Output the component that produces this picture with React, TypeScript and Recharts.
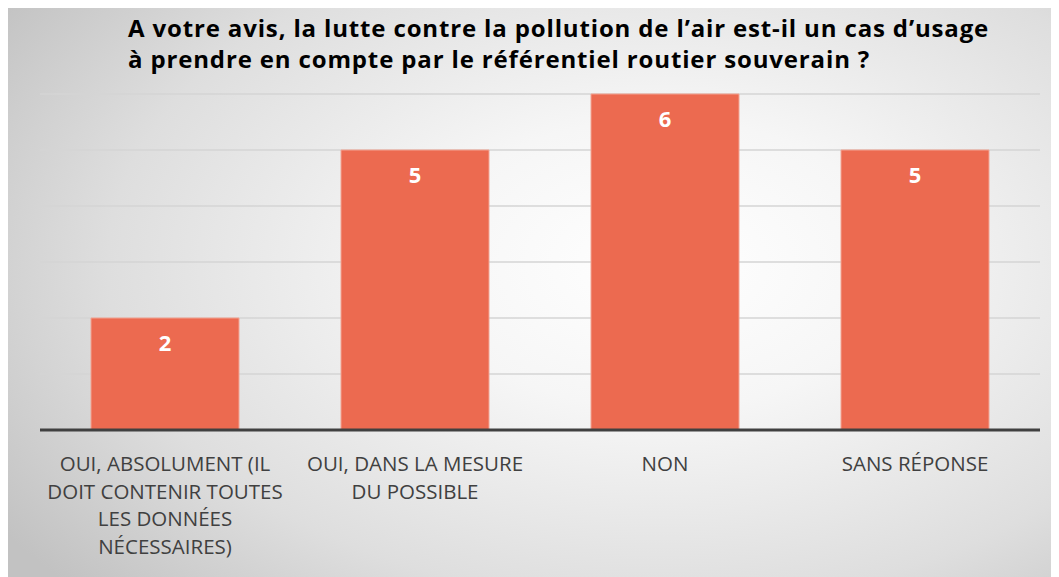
import React from 'react';
import { BarChart, Bar, XAxis, YAxis, CartesianGrid, LabelList } from 'recharts';

const categories = [
  'OUI, ABSOLUMENT (IL\nDOIT CONTENIR TOUTES\nLES DONNÉES\nNÉCESSAIRES)',
  'OUI, DANS LA MESURE\nDU POSSIBLE',
  'NON',
  'SANS RÉPONSE',
];
const counts = [2, 5, 6, 5];
const yTicks = [0, 1, 2, 3, 4, 5, 6];

const titleLines = [
  'A votre avis, la lutte contre la pollution de l’air est-il un cas d’usage',
  'à prendre en compte par le référentiel routier souverain ?',
];

const data = categories.map((name, i) => ({ name, value: counts[i] }));

const CategoryTick = (props: any) => {
  const { x, y, payload } = props;
  const lines = String(payload.value).split('\n');
  return (
    <g transform={`translate(${x},${y})`}>
      {lines.map((line, i) => (
        <text
          key={i}
          x={0}
          y={i * 27.5}
          dy={33}
          textAnchor="middle"
          fill="#404040"
          fontSize={20.5}
          fontFamily="'Open Sans', sans-serif"
        >
          {line}
        </text>
      ))}
    </g>
  );
};

export default function App() {
  return (
    <div
      style={{
        position: 'relative',
        width: 1051,
        height: 569,
        background:
          'radial-gradient(ellipse 75% 85% at 62% 45%, #ffffff 0%, #f6f6f6 30%, #dedede 70%, #c2c2c2 100%)',
      }}
    >
      <div
        style={{
          position: 'absolute',
          left: 120,
          top: 4,
          fontFamily: "'Open Sans', sans-serif",
          fontWeight: 700,
          fontSize: 24,
          letterSpacing: 0.85,
          lineHeight: '31px',
          color: '#000',
          whiteSpace: 'nowrap',
        }}
      >
        {titleLines.map((l, i) => (
          <div key={i}>{l}</div>
        ))}
      </div>
      <BarChart
        width={1051}
        height={569}
        data={data}
        margin={{ top: 86, right: 19, bottom: 117, left: 32 }}
        style={{ position: 'absolute', left: 0, top: 0 }}
      >
        <CartesianGrid vertical={false} stroke="#d4d4d4" strokeWidth={1.5} />
        <YAxis hide domain={[0, 6]} ticks={yTicks} width={0} />
        <XAxis
          dataKey="name"
          height={30}
          axisLine={{ stroke: '#404040', strokeWidth: 3 }}
          tickLine={false}
          interval={0}
          tick={<CategoryTick />}
        />
        <Bar dataKey="value" fill="#ec6a50" stroke="#f2a493" strokeWidth={1} barSize={148} isAnimationActive={false}>
          <LabelList
            dataKey="value"
            position="insideTop"
            offset={17}
            fill="#ffffff"
            fontSize={22}
            fontWeight={700}
            fontFamily="'Open Sans', sans-serif"
          />
        </Bar>
      </BarChart>
    </div>
  );
}
